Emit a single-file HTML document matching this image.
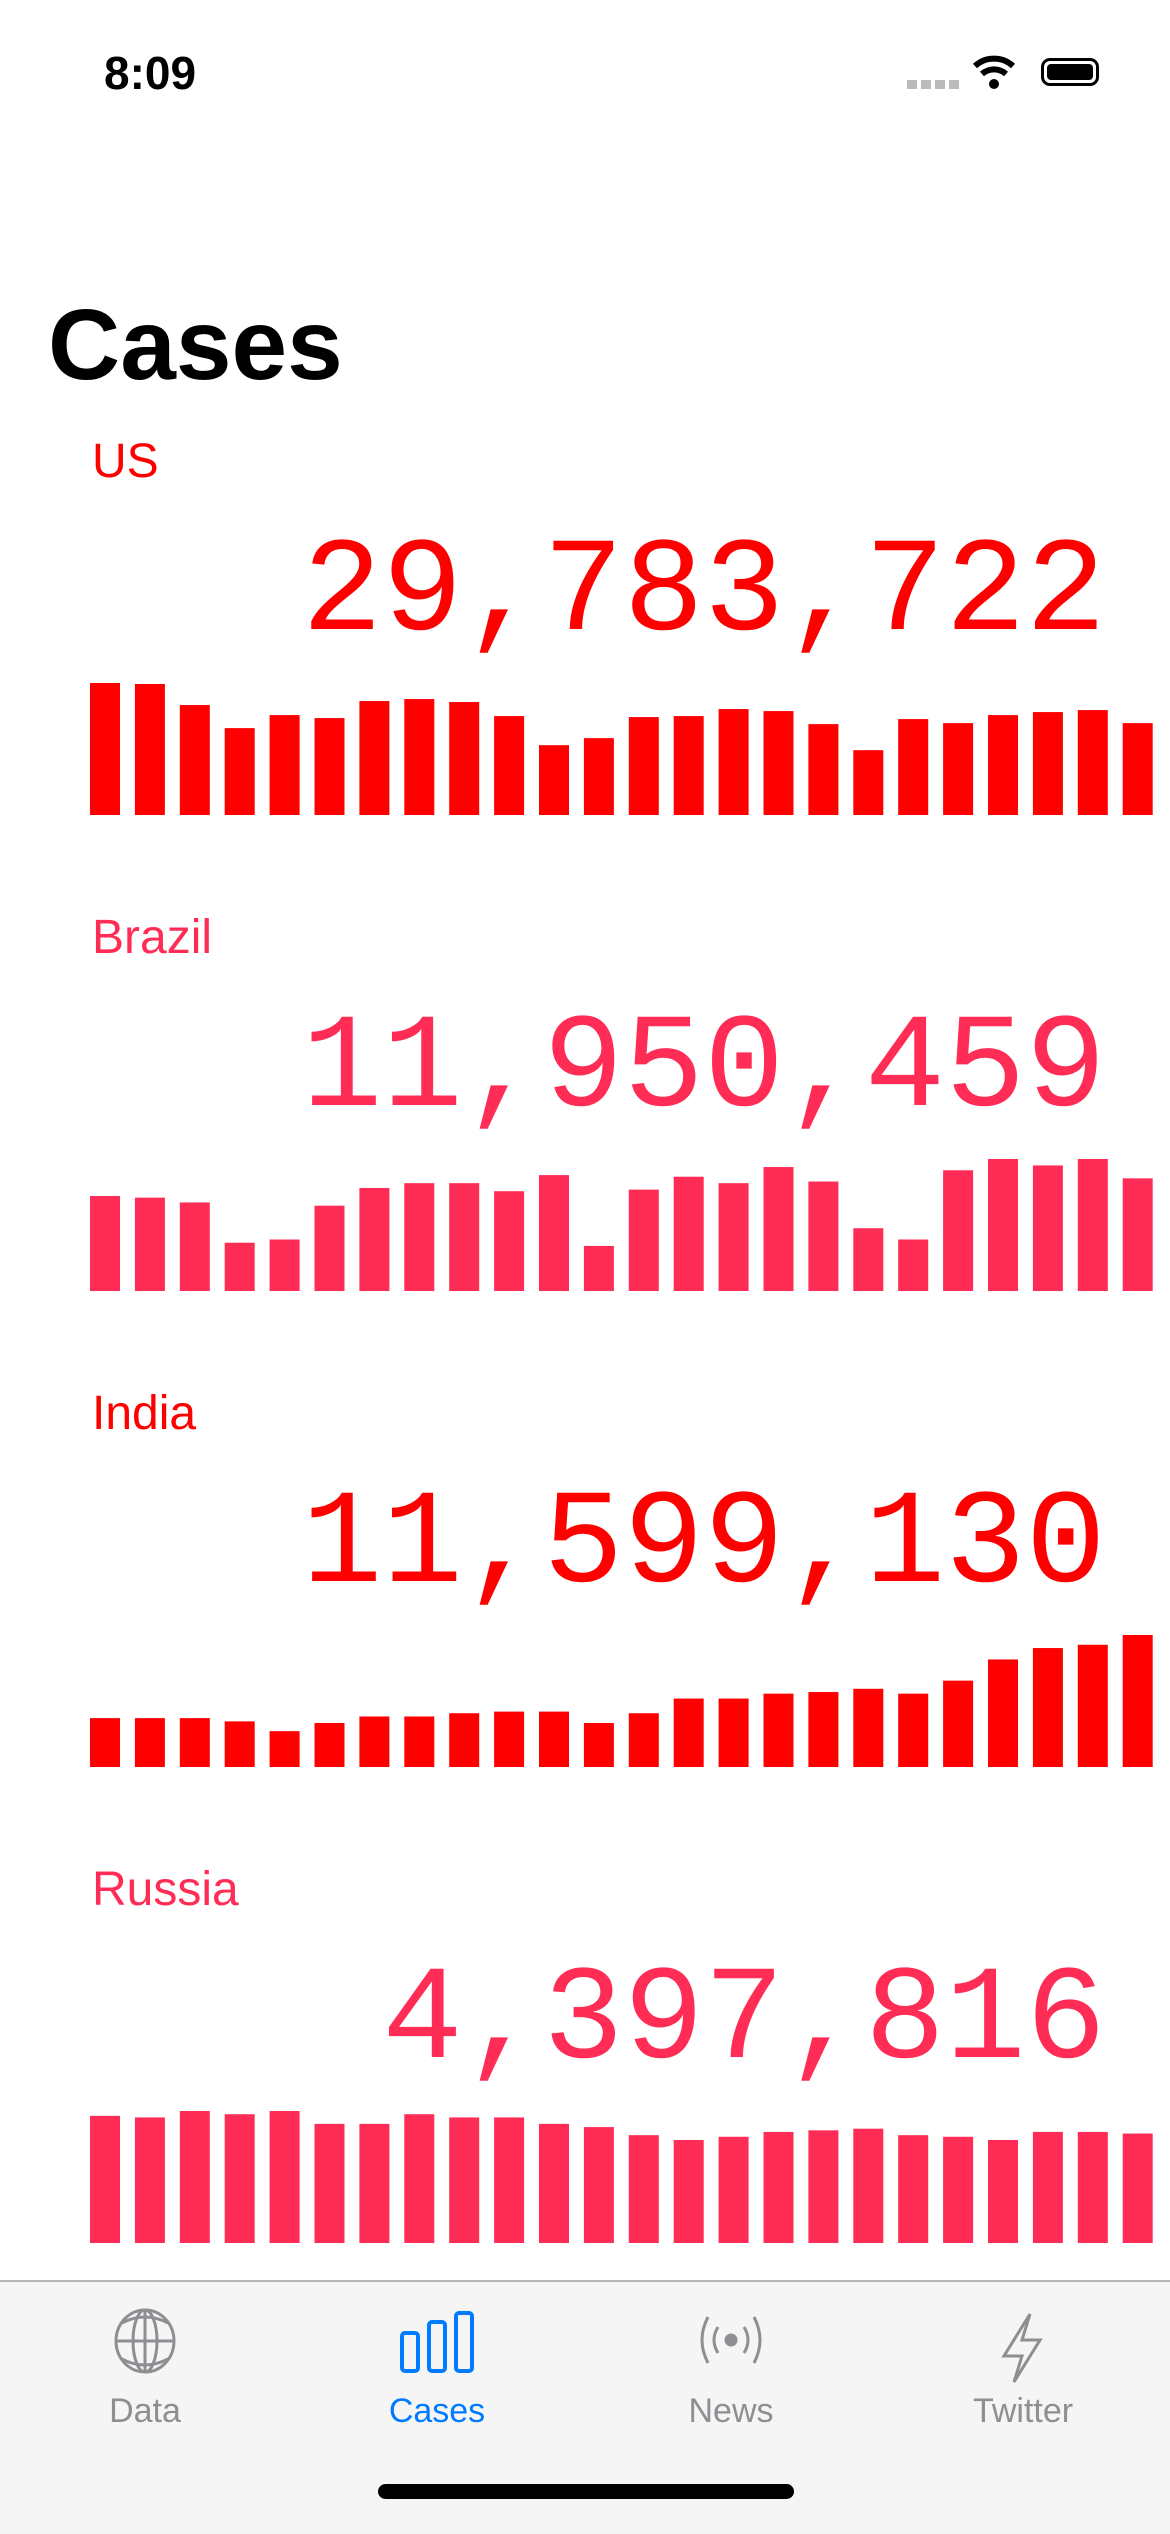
<!DOCTYPE html>
<html><head><meta charset="utf-8">
<style>
body{margin:0;width:1170px;height:2532px;background:#fff;position:relative;overflow:hidden;font-family:"Liberation Sans",sans-serif}
.abs{position:absolute}
.lbl{position:absolute;left:92px;font-size:48px;line-height:48px}
.num{position:absolute;right:64px;font-family:"Liberation Mono",monospace;font-size:134px;line-height:134px}
.tab{position:absolute;top:2392px;width:200px;text-align:center;font-size:34px;color:#8e8e93}
</style></head><body>
<div class="abs" style="left:104px;top:46px;font-size:46px;font-weight:bold">8:09</div>
<div class="abs" style="left:907px;top:80px;width:52px;height:9px;background:repeating-linear-gradient(90deg,#bbb 0 10px,transparent 10px 14px)"></div>
<svg class="abs" style="left:973px;top:54px" width="42" height="36" viewBox="0 0 42 36"><path d="M2 12 A28 28 0 0 1 40 12" stroke="#000" stroke-width="6" fill="none"/><path d="M9 20 A18 18 0 0 1 33 20" stroke="#000" stroke-width="6" fill="none"/><circle cx="21" cy="30" r="5"/></svg>
<div class="abs" style="left:1041px;top:58px;width:58px;height:28px;border:3px solid #000;border-radius:9px;box-sizing:border-box;padding:3px"><div style="background:#000;width:100%;height:100%;border-radius:4px"></div></div>
<div class="abs" style="left:48px;top:290px;font-size:100px;font-weight:bold;line-height:110px">Cases</div>

<div class="lbl" style="top:438px;color:#ff0000">US</div>
<div class="num" style="top:527px;color:#ff0000">29,783,722</div>
<div class="lbl" style="top:914px;color:#ff2d55">Brazil</div>
<div class="num" style="top:1003px;color:#ff2d55">11,950,459</div>
<div class="lbl" style="top:1390px;color:#ff0000">India</div>
<div class="num" style="top:1479px;color:#ff0000">11,599,130</div>
<div class="lbl" style="top:1866px;color:#ff2d55">Russia</div>
<div class="num" style="top:1955px;color:#ff2d55">4,397,816</div>

<svg id="charts" class="abs" style="left:0;top:0" width="1170" height="2280"></svg>

<div class="abs" style="left:0;top:2280px;width:1170px;height:252px;background:#f6f5f5;border-top:2px solid #b5b5b5"></div>
<svg class="abs" style="left:112px;top:2307px" width="66" height="68" viewBox="0 0 66 68" fill="none" stroke="#8e8e93" stroke-width="3"><ellipse cx="33" cy="34" rx="29" ry="31"/><ellipse cx="33" cy="34" rx="12" ry="31"/><line x1="33" y1="3" x2="33" y2="65"/><line x1="4" y1="34" x2="62" y2="34"/><path d="M10 16 Q33 4 56 16 M10 52 Q33 64 56 52"/></svg>
<svg class="abs" style="left:400px;top:2311px" width="76" height="62" viewBox="0 0 76 62" fill="none" stroke="#007aff" stroke-width="4"><rect x="2" y="22" width="16" height="38" rx="3"/><rect x="29" y="11" width="16" height="49" rx="3"/><rect x="56" y="2" width="16" height="58" rx="3"/></svg>
<svg class="abs" style="left:690px;top:2309px" width="82" height="62" viewBox="0 0 82 62" fill="none" stroke="#8e8e93" stroke-width="3"><circle cx="41" cy="31" r="5" fill="#8e8e93"/><path d="M28 18 Q20 31 28 44 M54 18 Q62 31 54 44 M18 8 Q6 31 18 54 M64 8 Q76 31 64 54"/></svg>
<svg class="abs" style="left:1000px;top:2312px" width="44" height="72" viewBox="0 0 44 72" fill="none" stroke="#8e8e93" stroke-width="3"><path d="M30 2 L4 44 L22 44 L14 70 L40 28 L22 28 Z"/></svg>
<div class="tab" style="left:45px">Data</div>
<div class="tab" style="left:337px;color:#007aff">Cases</div>
<div class="tab" style="left:631px">News</div>
<div class="tab" style="left:923px">Twitter</div>
<div class="abs" style="left:378px;top:2484px;width:416px;height:15px;border-radius:8px;background:#000"></div>

<script>
const usValues=[395,392,329,260,299,290,341,347,338,296,209,230,293,296,317,311,272,194,287,275,299,308,314,275];
const brazilValues=[59,58,55,30,32,53,64,67,67,62,72,28,63,71,67,77,68,39,32,75,82,78,82,70];
const indiaValues=[30,30,30,28,22,27,31,31,33,34,34,27,33,42,42,45,46,48,45,53,66,73,75,81];
const russiaValues=[79,78,82,80,82,74,74,80,78,78,74,72,67,64,66,69,70,71,67,66,64,69,69,68];
const seriesNames=["us","brazil","india","russia"];
const seriesColors=["#ff0000","#ff2d55","#ff0000","#ff2d55"];
const NS="http://www.w3.org/2000/svg";
const svg=document.getElementById('charts');
const all=[usValues,brazilValues,indiaValues,russiaValues];
all.forEach((vals,ci)=>{
  const bottom=815+ci*476, maxH=132;
  const mx=Math.max(...vals);
  const x=i=>90+i*44.9;
  const h=v=>v/mx*maxH;
  vals.forEach((v,i)=>{
    const r=document.createElementNS(NS,'rect');
    r.setAttribute('x',x(i));r.setAttribute('width',30);
    r.setAttribute('y',bottom-h(v));r.setAttribute('height',h(v));
    r.setAttribute('fill',seriesColors[ci]);
    
    
    svg.appendChild(r);
  });
});
</script>
</body></html>
